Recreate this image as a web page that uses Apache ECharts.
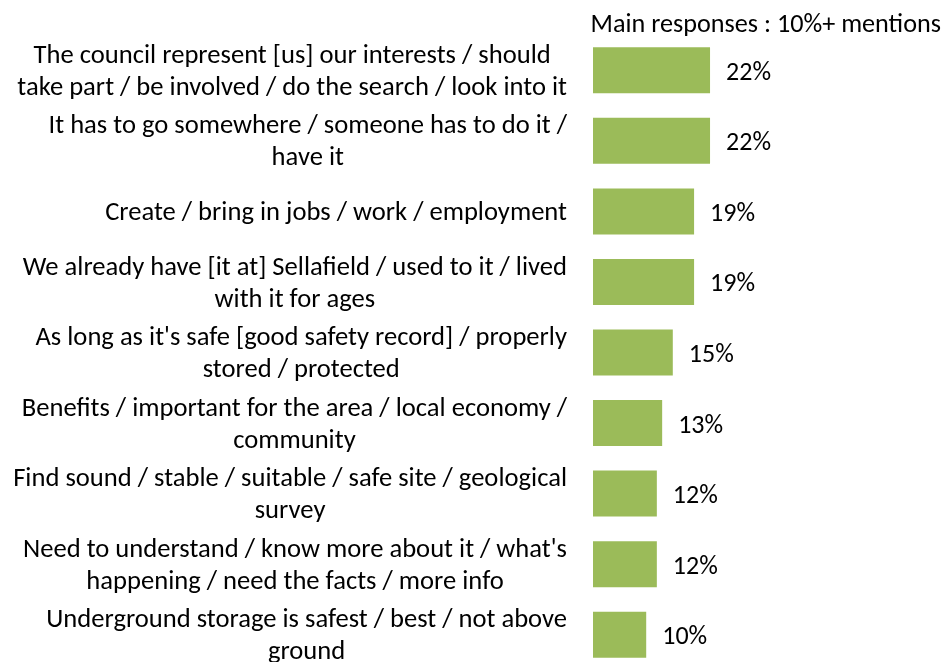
<!DOCTYPE html>
<html>
<head>
<meta charset="utf-8">
<script src="https://cdn.jsdelivr.net/npm/echarts@6/dist/echarts.min.js"></script>
<style>
  html, body { margin: 0; padding: 0; background: #ffffff; }
  #chart { width: 949px; height: 662px; }
</style>
</head>
<body>
<div id="chart"></div>
<script>
// Response categories, top to bottom (line breaks as they wrap on the chart)
const categories = [
  "The council represent [us] our interests / should\ntake part / be involved / do the search / look into it",
  "It has to go somewhere / someone has to do it /\nhave it",
  "Create / bring in jobs / work / employment",
  "We already have [it at] Sellafield / used to it / lived\nwith it for ages",
  "As long as it's safe [good safety record] / properly\nstored / protected",
  "Benefits / important for the area / local economy /\ncommunity",
  "Find sound / stable / suitable / safe site / geological\nsurvey",
  "Need to understand / know more about it / what's\nhappening / need the facts / more info",
  "Underground storage is safest / best / not above\nground"
];

// Share of mentions, percent
const mentions = [22, 22, 19, 19, 15, 13, 12, 12, 10];

const chartTitle = "Main responses : 10%+ mentions";

const FONT = 'Carlito, Calibri, "Liberation Sans", sans-serif';

const chart = echarts.init(document.getElementById('chart'), null, { renderer: 'canvas' });

chart.setOption({
  animation: false,
  backgroundColor: '#ffffff',
  title: {
    text: chartTitle,
    right: 3,
    top: 7,
    textStyle: { fontFamily: FONT, fontSize: 26.2, fontWeight: 'normal', color: '#000000' }
  },
  // the last row runs slightly past the bottom edge of the canvas
  grid: { left: 593, top: 35, width: 133, height: 635, containLabel: false, outerBoundsMode: 'none' },
  xAxis: {
    type: 'value',
    min: 0,
    max: 25,
    show: false
  },
  yAxis: {
    type: 'category',
    inverse: true,
    data: categories,
    axisLine: { show: false },
    axisTick: { show: false },
    splitLine: { show: false },
    axisLabel: {
      margin: 26,
      align: 'right',
      padding: [4, 0, 0, 0],
      formatter: function (value) {
        // each line centred inside the right-aligned label block
        return value.split('\n').map(function (line) { return '{c|' + line + '}'; }).join('\n');
      },
      rich: {
        c: { align: 'center', fontFamily: FONT, fontSize: 26.6, lineHeight: 32, color: '#000000' }
      }
    }
  },
  series: [{
    type: 'bar',
    data: mentions,
    barWidth: 46,
    itemStyle: { color: '#9BBB59' },
    label: {
      show: true,
      position: 'right',
      distance: 16,
      offset: [0, 3],
      formatter: '{c}%',
      fontFamily: FONT,
      fontSize: 26,
      color: '#000000'
    }
  }]
});
</script>
</body>
</html>
